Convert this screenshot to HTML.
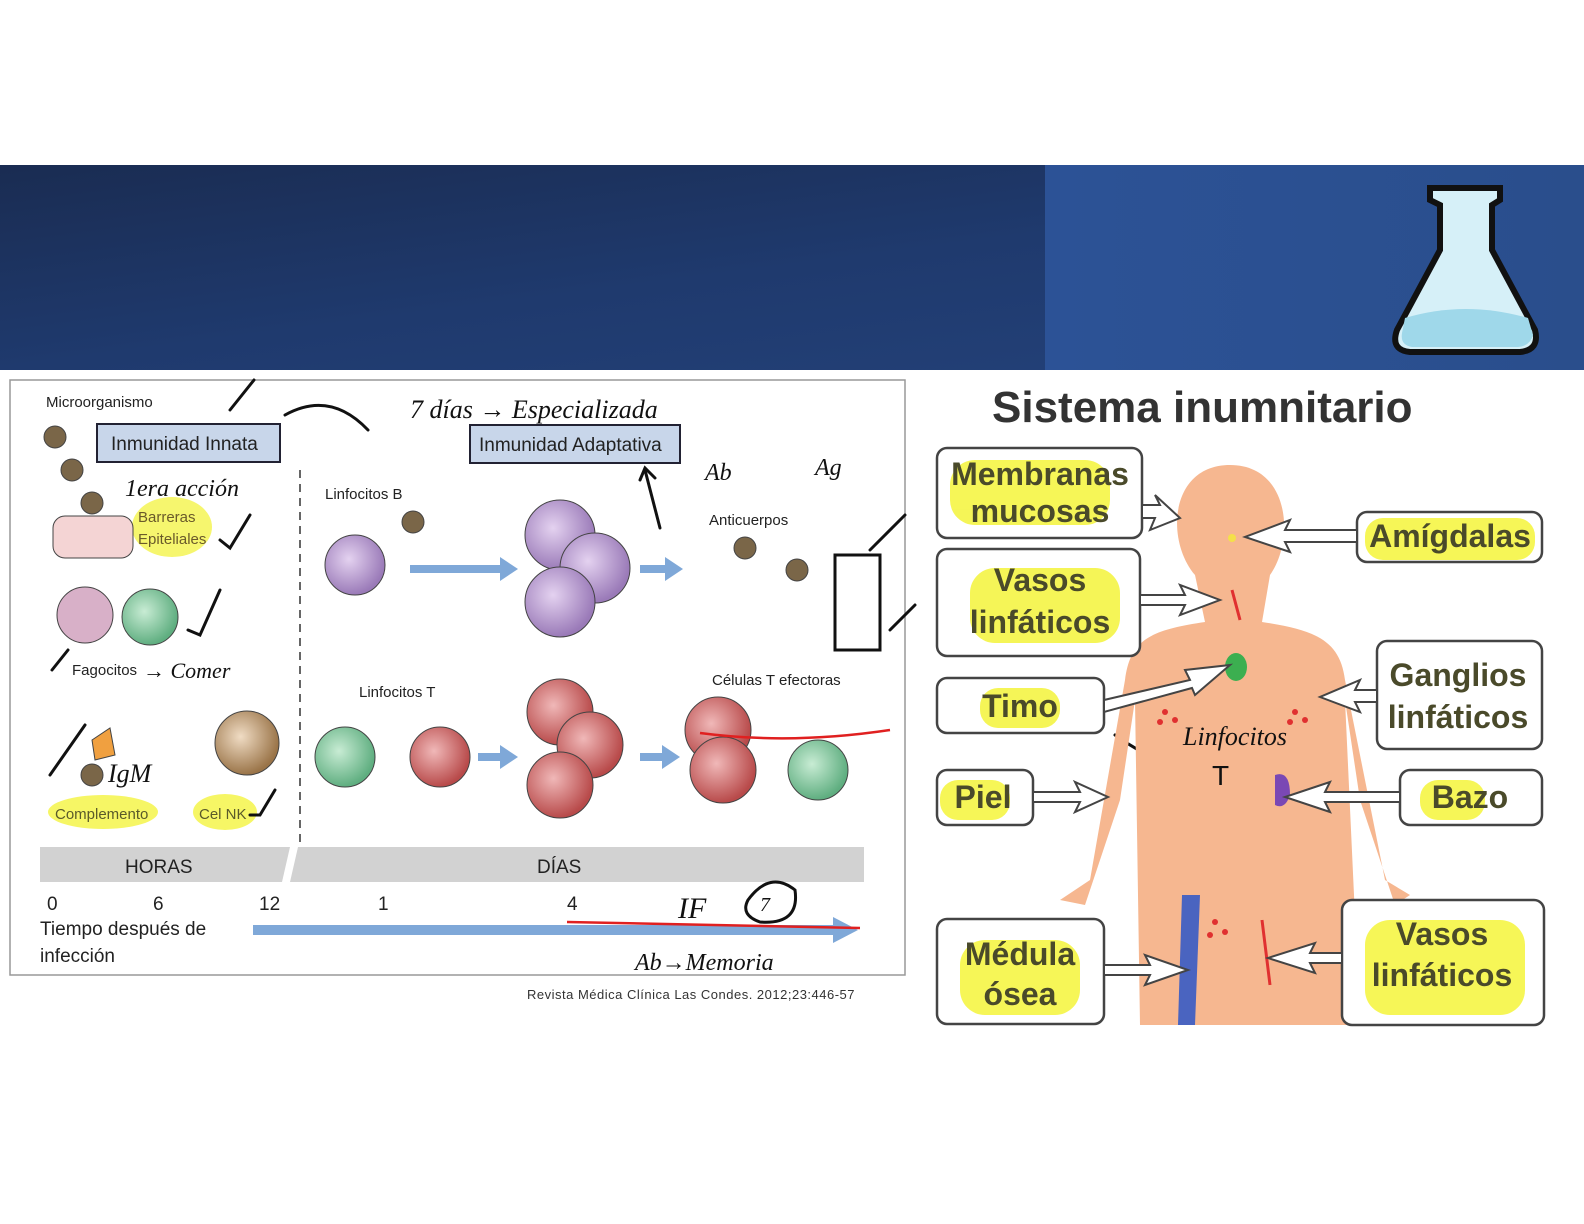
<!DOCTYPE html>
<html><head><meta charset="utf-8"><style>
html,body{margin:0;padding:0;background:#fff}
body{width:1584px;height:1224px;position:relative;overflow:hidden;font-family:"Liberation Sans",sans-serif}
</style></head><body>
<svg width="1584" height="1224" viewBox="0 0 1584 1224" xmlns="http://www.w3.org/2000/svg" style="position:absolute;left:0;top:0">
<defs>
<linearGradient id="bn" x1="0" y1="0" x2="1" y2="1">
<stop offset="0" stop-color="#1a2c52"/><stop offset="0.5" stop-color="#1f3a6e"/><stop offset="1" stop-color="#24427a"/></linearGradient>
<linearGradient id="bn2" x1="0" y1="0" x2="1" y2="0">
<stop offset="0" stop-color="#2c5296"/><stop offset="1" stop-color="#2a4e8c"/></linearGradient>
<radialGradient id="pc" cx="0.4" cy="0.4" r="0.6"><stop offset="0" stop-color="#e4d2f0"/><stop offset="1" stop-color="#9a7ab8"/></radialGradient>
<radialGradient id="rc" cx="0.4" cy="0.4" r="0.6"><stop offset="0" stop-color="#f0b8b8"/><stop offset="1" stop-color="#b84a4a"/></radialGradient>
<radialGradient id="gc" cx="0.4" cy="0.4" r="0.6"><stop offset="0" stop-color="#c8ecd4"/><stop offset="1" stop-color="#5fae80"/></radialGradient>
<radialGradient id="bc" cx="0.4" cy="0.4" r="0.6"><stop offset="0" stop-color="#f0dcc4"/><stop offset="1" stop-color="#9a7448"/></radialGradient>
</defs>
<rect x="0" y="165" width="1584" height="205" fill="url(#bn)"/>
<rect x="1045" y="165" width="539" height="205" fill="url(#bn2)"/>
<!-- flask -->
<g stroke="#111" stroke-width="6" fill="#d6f0f8">
<path d="M1430 188 L1500 188 L1500 200 L1492 205 L1492 250 L1535 330 Q1540 350 1520 352 L1410 352 Q1390 350 1397 330 L1440 250 L1440 205 L1430 200 Z"/>
</g>
<path d="M1405 318 Q1465 300 1528 318 L1533 335 Q1530 346 1518 347 L1412 347 Q1400 345 1402 333 Z" fill="#9fd8ea"/>
<!-- left box -->
<rect x="10" y="380" width="895" height="595" fill="#fff" stroke="#999" stroke-width="1.5"/>
<g font-family="Liberation Sans,sans-serif" font-size="15" fill="#222">
<text x="46" y="407">Microorganismo</text>
<rect x="97" y="424" width="183" height="38" fill="#c8d6ea" stroke="#223" stroke-width="2"/>
<text x="111" y="450" font-size="19">Inmunidad Innata</text>
<rect x="470" y="425" width="210" height="38" fill="#c8d6ea" stroke="#223" stroke-width="2"/>
<text x="479" y="451" font-size="19">Inmunidad Adaptativa</text>
<text x="325" y="499">Linfocitos B</text>
<text x="709" y="525">Anticuerpos</text>
<text x="359" y="697">Linfocitos T</text>
<text x="712" y="685">Células T efectoras</text>
<ellipse cx="172" cy="527" rx="40" ry="30" fill="#f4f44a" opacity="0.8"/>
<text x="138" y="522" fill="#6a5a2a">Barreras</text>
<text x="138" y="544" fill="#6a5a2a">Epiteliales</text>
<text x="72" y="675">Fagocitos</text>
<ellipse cx="103" cy="812" rx="55" ry="17" fill="#f4f44a" opacity="0.85"/>
<text x="55" y="819" fill="#5a5a2a">Complemento</text>
<ellipse cx="225" cy="812" rx="32" ry="18" fill="#f4f44a" opacity="0.85"/>
<text x="199" y="819" fill="#5a5a2a">Cel NK</text>
</g>
<line x1="300" y1="470" x2="300" y2="845" stroke="#666" stroke-width="2" stroke-dasharray="8,6"/>
<!-- cells -->
<g stroke="#444" stroke-width="1">
<rect x="53" y="516" width="80" height="42" rx="12" fill="#f4d4d4"/>
<circle cx="85" cy="615" r="28" fill="#d8b0c8"/>
<circle cx="150" cy="617" r="28" fill="url(#gc)"/>
<circle cx="247" cy="743" r="32" fill="url(#bc)"/>
<circle cx="355" cy="565" r="30" fill="url(#pc)"/>
<circle cx="560" cy="535" r="35" fill="url(#pc)"/>
<circle cx="595" cy="568" r="35" fill="url(#pc)"/>
<circle cx="560" cy="602" r="35" fill="url(#pc)"/>
<circle cx="345" cy="757" r="30" fill="url(#gc)"/>
<circle cx="440" cy="757" r="30" fill="url(#rc)"/>
<circle cx="560" cy="712" r="33" fill="url(#rc)"/>
<circle cx="590" cy="745" r="33" fill="url(#rc)"/>
<circle cx="560" cy="785" r="33" fill="url(#rc)"/>
<circle cx="718" cy="730" r="33" fill="url(#rc)"/>
<circle cx="723" cy="770" r="33" fill="url(#rc)"/>
<circle cx="818" cy="770" r="30" fill="url(#gc)"/>
<circle cx="55" cy="437" r="11" fill="#7a6648"/><circle cx="72" cy="470" r="11" fill="#7a6648"/><circle cx="92" cy="503" r="11" fill="#7a6648"/>
<circle cx="413" cy="522" r="11" fill="#7a6648"/><circle cx="745" cy="548" r="11" fill="#7a6648"/><circle cx="797" cy="570" r="11" fill="#7a6648"/>
<circle cx="92" cy="775" r="11" fill="#7a6648"/>
<path d="M92 740 L110 728 L115 755 L95 760 Z" fill="#f0a040"/>
</g>
<g fill="#7fa8d8">
<rect x="410" y="565" width="90" height="8"/><polygon points="500,557 518,569 500,581"/>
<rect x="640" y="565" width="25" height="8"/><polygon points="665,557 683,569 665,581"/>
<rect x="478" y="753" width="22" height="8"/><polygon points="500,745 518,757 500,769"/>
<rect x="640" y="753" width="22" height="8"/><polygon points="662,745 680,757 662,769"/>
<rect x="253" y="925" width="580" height="10"/><polygon points="833,917 858,930 833,943"/>
</g>
<!-- time bar -->
<polygon points="40,847 290,847 282,882 40,882" fill="#d2d2d2"/>
<polygon points="298,847 864,847 864,882 290,882" fill="#d2d2d2"/>
<g font-size="19" fill="#222">
<text x="125" y="873">HORAS</text><text x="537" y="873">DÍAS</text>
<text x="47" y="910">0</text><text x="153" y="910">6</text><text x="259" y="910">12</text><text x="378" y="910">1</text><text x="567" y="910">4</text>
<text x="40" y="935">Tiempo después de</text><text x="40" y="962">infección</text>
</g>
<text x="527" y="999" font-size="13" fill="#333" letter-spacing="0.5">Revista Médica Clínica Las Condes. 2012;23:446-57</text>
<!-- handwriting -->
<g fill="none" stroke="#111" stroke-width="3" stroke-linecap="round">
<path d="M230 410 L238 400 L254 380"/><path d="M285 415 Q330 390 368 430"/>
<path d="M660 528 L645 470"/><path d="M640 480 L645 468 L655 478"/>
<path d="M835 555 L835 650 L880 650 L880 555 Z"/><path d="M870 550 L905 515"/><path d="M890 630 L915 605"/>
<path d="M1195 775 Q1150 760 1115 735"/><circle cx="1230" cy="680" r="45"/>
<path d="M748 900 Q770 870 795 890 Q800 925 760 922 Q740 915 748 900"/>
<path d="M220 540 L230 548 L250 515"/><path d="M188 630 L200 635 L220 590"/><path d="M250 815 L260 815 L275 790"/>
<path d="M50 775 L85 725"/><path d="M52 670 L68 650"/>
</g>
<g font-family="Liberation Serif,serif" font-style="italic" font-size="26" fill="#111">
<text x="410" y="418">7 días → Especializada</text>
<text x="125" y="496" font-size="24">1era acción</text>
<text x="143" y="678" font-size="22">→ Comer</text>
<text x="108" y="782" font-size="26">IgM</text>
<text x="705" y="480" font-size="24">Ab</text><text x="815" y="475" font-size="24">Ag</text>
<text x="635" y="970" font-size="24">Ab→Memoria</text>
<text x="678" y="918" font-size="30">IF</text><text x="760" y="911" font-size="20">7</text>
</g>
<path d="M700 733 Q790 745 890 730" stroke="#e02020" stroke-width="2.5" fill="none"/>
<path d="M567 922 Q700 925 860 928" stroke="#e02020" stroke-width="2.5" fill="none"/>
<!-- right -->
<text x="992" y="422" font-size="44" font-weight="bold" fill="#333">Sistema inumnitario</text>
<path d="M1230 465 C1170 465 1165 540 1195 575 L1205 622 C1150 630 1130 640 1125 680 L1090 880 L1060 900 L1085 905 L1120 800 L1135 700 L1140 1025 L1360 1025 L1345 700 L1360 800 L1395 905 L1410 895 L1385 880 L1345 680 C1340 640 1315 630 1262 622 L1270 575 C1295 540 1290 465 1230 465 Z" fill="#f6b790"/>
<circle cx="1232" cy="538" r="4" fill="#f4e04a"/>
<ellipse cx="1236" cy="667" rx="11" ry="14" fill="#3caf50"/>
<path d="M1275 775 q15 -5 15 20 q-5 15 -15 10 z" fill="#7a48b4"/>
<path d="M1182 895 L1200 895 L1195 1025 L1178 1025 Z" fill="#4a64c0"/>
<g fill="#e03030"><circle cx="1165" cy="712" r="3"/><circle cx="1175" cy="720" r="3"/><circle cx="1160" cy="722" r="3"/><circle cx="1295" cy="712" r="3"/><circle cx="1305" cy="720" r="3"/><circle cx="1290" cy="722" r="3"/><circle cx="1215" cy="922" r="3"/><circle cx="1225" cy="932" r="3"/><circle cx="1210" cy="935" r="3"/></g>
<path d="M1232 590 L1240 620 M1262 920 L1270 985" stroke="#e03030" stroke-width="3"/>
<g fill="#fff" stroke="#444" stroke-width="2.5">
<rect x="937" y="448" width="205" height="90" rx="10"/>
<rect x="937" y="549" width="203" height="107" rx="10"/>
<rect x="937" y="678" width="167" height="55" rx="10"/>
<rect x="937" y="770" width="96" height="55" rx="10"/>
<rect x="937" y="919" width="167" height="105" rx="10"/>
<rect x="1357" y="512" width="185" height="50" rx="10"/>
<rect x="1377" y="641" width="165" height="108" rx="10"/>
<rect x="1400" y="770" width="142" height="55" rx="10"/>
<rect x="1342" y="900" width="202" height="125" rx="10"/>
</g>
<g fill="#f4f43a" opacity="0.85">
<rect x="950" y="460" width="160" height="65" rx="25"/><rect x="970" y="568" width="150" height="75" rx="25"/>
<rect x="980" y="688" width="80" height="40" rx="18"/><rect x="940" y="780" width="70" height="40" rx="18"/>
<rect x="960" y="940" width="120" height="75" rx="25"/><rect x="1365" y="518" width="170" height="42" rx="18"/>
<rect x="1420" y="780" width="65" height="40" rx="18"/><rect x="1365" y="920" width="160" height="95" rx="25"/>
</g>
<g font-size="32" font-weight="bold" fill="#4a4a2a" text-anchor="middle">
<text x="1040" y="485">Membranas</text><text x="1040" y="522">mucosas</text>
<text x="1040" y="591">Vasos</text><text x="1040" y="633">linfáticos</text>
<text x="1020" y="717">Timo</text><text x="983" y="808">Piel</text>
<text x="1020" y="965">Médula</text><text x="1020" y="1005">ósea</text>
<text x="1450" y="547">Amígdalas</text>
<text x="1458" y="686">Ganglios</text><text x="1458" y="728">linfáticos</text>
<text x="1470" y="808">Bazo</text>
<text x="1442" y="945">Vasos</text><text x="1442" y="986">linfáticos</text>
</g>
<g fill="#fff" stroke="#444" stroke-width="2">
<polygon points="1142,505 1160,505 1155,495 1180,518 1150,530 1155,518 1142,518"/>
<polygon points="1357,530 1285,530 1290,520 1245,537 1290,552 1285,542 1357,542"/>
<polygon points="1140,595 1185,595 1180,585 1220,600 1180,615 1185,605 1140,605"/>
<polygon points="1104,700 1190,680 1185,670 1230,665 1195,695 1192,688 1104,712"/>
<polygon points="1377,690 1355,690 1360,680 1320,697 1360,712 1355,702 1377,702"/>
<polygon points="1033,792 1080,792 1075,782 1108,797 1075,812 1080,802 1033,802"/>
<polygon points="1400,792 1325,792 1330,782 1285,797 1330,812 1325,802 1400,802"/>
<polygon points="1104,965 1150,965 1145,955 1188,970 1145,985 1150,975 1104,975"/>
<polygon points="1342,953 1310,953 1315,943 1268,958 1315,973 1310,963 1342,963"/>
</g>
<text x="1183" y="745" font-family="Liberation Serif,serif" font-style="italic" font-size="26" fill="#111">Linfocitos</text>
<text x="1212" y="785" font-size="28" fill="#111">T</text>
</svg>
</body></html>
